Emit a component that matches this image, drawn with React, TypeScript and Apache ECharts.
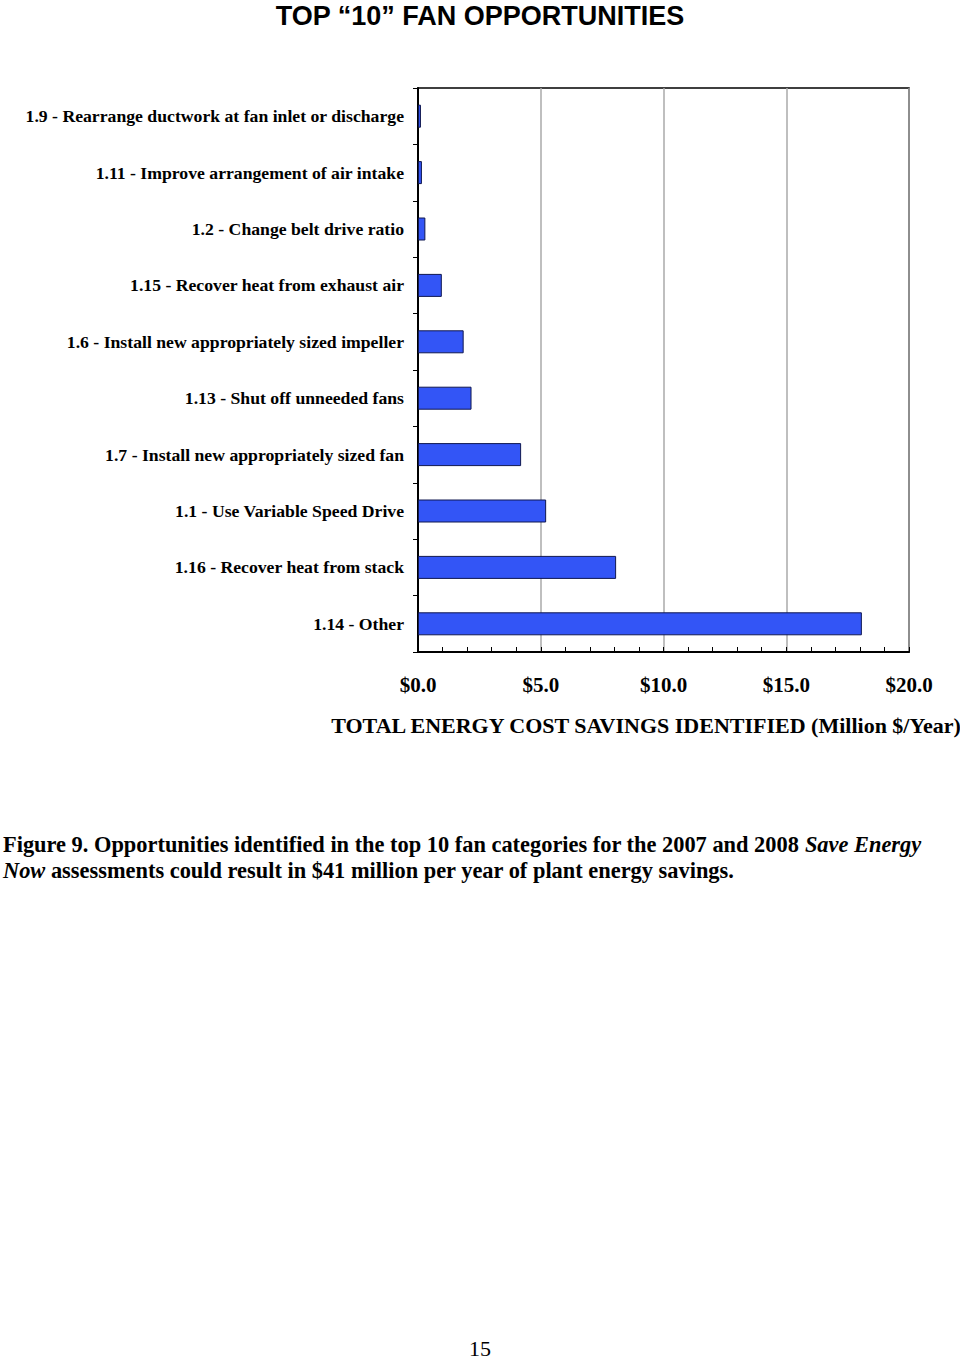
import React, { useEffect, useRef } from "react";
import * as echarts from "echarts";

const categories = [
  "1.9 - Rearrange ductwork at fan inlet or discharge",
  "1.11 - Improve arrangement of air intake",
  "1.2 - Change belt drive ratio",
  "1.15 - Recover heat from exhaust air",
  "1.6 - Install new appropriately sized impeller",
  "1.13 - Shut off unneeded fans",
  "1.7 - Install new appropriately sized fan",
  "1.1 - Use Variable Speed Drive",
  "1.16 - Recover heat from stack",
  "1.14 - Other",
];
const savings = [0.12, 0.16, 0.3, 0.97, 1.86, 2.18, 4.2, 5.22, 8.07, 18.08];
const xTicks = [0, 5, 10, 15, 20];

const title = "TOP \u201C10\u201D FAN OPPORTUNITIES";
const axisTitle = "TOTAL ENERGY COST SAVINGS IDENTIFIED (Million $/Year)";
const captionLine1 = "Figure 9. Opportunities identified in the top 10 fan categories for the 2007 and 2008 ";
const captionItal1 = "Save Energy";
const captionItal2 = "Now";
const captionLine2 = " assessments could result in $41 million per year of plant energy savings.";
const pageNumber = "15";

const serif = "'Liberation Serif', 'Times New Roman', serif";

export default function App() {
  const ref = useRef<HTMLDivElement>(null);
  useEffect(() => {
    if (!ref.current) return;
    const chart = echarts.init(ref.current, null, { renderer: "svg" });
    chart.setOption({
      animation: false,
      backgroundColor: "#fff",
      grid: {
        left: 418,
        right: 51,
        top: 88,
        bottom: 708,
        containLabel: false,
        show: true,
        borderColor: "#000",
        borderWidth: 1.5,
      },
      xAxis: {
        type: "value",
        min: xTicks[0],
        max: xTicks[xTicks.length - 1],
        interval: 5,
        axisLine: { show: true, lineStyle: { color: "#000", width: 2 } },
        axisTick: { show: true, inside: true, length: 5, lineStyle: { color: "#000" } },
        minorTick: { show: true, splitNumber: 5, length: 5, lineStyle: { color: "#000" } },
        splitLine: { show: true, lineStyle: { color: "#aaa", width: 1.5 } },
        axisLabel: {
          margin: 22,
          fontFamily: serif,
          fontWeight: "bold",
          fontSize: 21,
          color: "#000",
          formatter: (v: number) => "$" + v.toFixed(1),
        },
      },
      yAxis: {
        type: "category",
        inverse: true,
        data: categories,
        axisLine: { show: true, lineStyle: { color: "#000", width: 2 } },
        axisTick: { show: true, inside: false, length: 5, lineStyle: { color: "#000" } },
        axisLabel: {
          margin: 14,
          fontFamily: serif,
          fontWeight: "bold",
          fontSize: 17.7,
          color: "#000",
          interval: 0,
        },
      },
      series: [
        {
          type: "bar",
          data: savings,
          barWidth: 23,
          itemStyle: { color: "#3355F6", borderColor: "#101850", borderWidth: 1 },
        },
      ],
      graphic: [
        {
          type: "text",
          x: 480,
          y: 2,
          style: {
            text: title,
            font: "bold 27px 'Liberation Sans', Arial, sans-serif",
            fill: "#000",
            align: "center",
            verticalAlign: "top",
          },
        },
        {
          type: "text",
          x: 646,
          y: 725,
          style: {
            text: axisTitle,
            font: "bold 22px " + serif,
            fill: "#000",
            align: "center",
            verticalAlign: "middle",
          },
        },
        {
          type: "text",
          x: 3,
          y: 831,
          style: {
            text: "{n|" + captionLine1 + "}{i|" + captionItal1 + "}\n{i|" + captionItal2 + "}{n|" + captionLine2 + "}",
            fill: "#000",
            align: "left",
            verticalAlign: "top",
            lineHeight: 26,
            rich: {
              n: { font: "bold 22.4px " + serif, lineHeight: 26 },
              i: { font: "italic bold 22.4px " + serif, lineHeight: 26 },
            },
          },
        },
        {
          type: "text",
          x: 480,
          y: 1348,
          style: {
            text: pageNumber,
            font: "22px " + serif,
            fill: "#000",
            align: "center",
            verticalAlign: "middle",
          },
        },
      ],
    });
    return () => chart.dispose();
  }, []);
  return (
    <div
      ref={ref}
      style={{ position: "absolute", left: 0, top: 0, width: 960, height: 1360, background: "#fff" }}
    />
  );
}
